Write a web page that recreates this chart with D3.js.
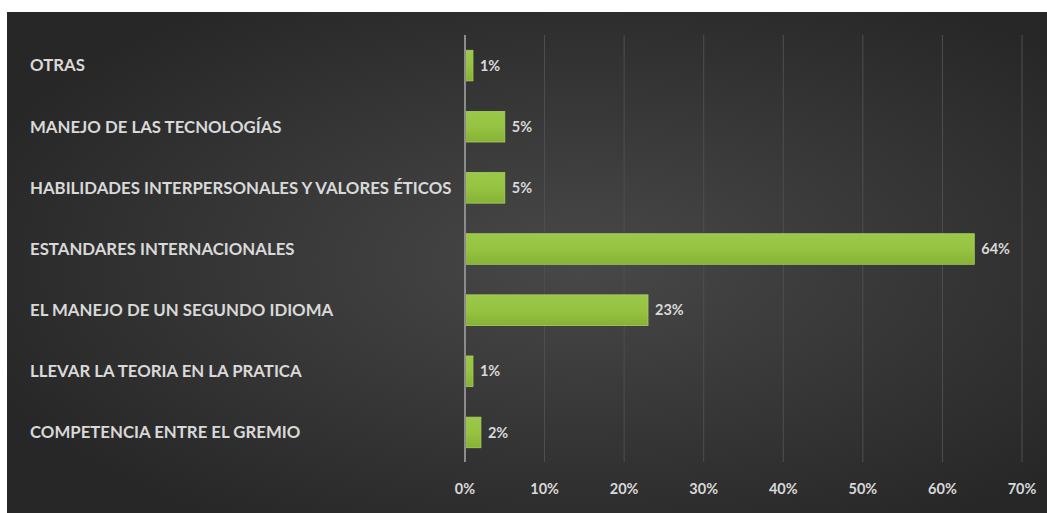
<!DOCTYPE html>
<html>
<head>
<meta charset="utf-8">
<script src="https://cdn.jsdelivr.net/npm/d3@7/dist/d3.min.js"></script>
<style>
  html, body { margin: 0; padding: 0; background: #fff; }
  svg { display: block; }
  text { font-family: Lato, "Open Sans", sans-serif; font-weight: 700; fill: #d9d9d9; }
</style>
</head>
<body>
<svg id="chart" width="1047" height="513"></svg>
<script>
const categories = [
  "OTRAS",
  "MANEJO DE LAS TECNOLOGÍAS",
  "HABILIDADES INTERPERSONALES Y VALORES ÉTICOS",
  "ESTANDARES INTERNACIONALES",
  "EL MANEJO DE UN SEGUNDO IDIOMA",
  "LLEVAR LA TEORIA EN LA PRATICA",
  "COMPETENCIA ENTRE EL GREMIO"
];
const values = [0.01, 0.05, 0.05, 0.64, 0.23, 0.01, 0.02];
const ticks = [0, 0.1, 0.2, 0.3, 0.4, 0.5, 0.6, 0.7];

const svg = d3.select("#chart");
const W = 1047, H = 513;

const defs = svg.append("defs");
const bg = defs.append("radialGradient").attr("id", "bg")
  .attr("cx", "55%").attr("cy", "50%").attr("r", "62%");
bg.append("stop").attr("offset", "0%").attr("stop-color", "#484848");
bg.append("stop").attr("offset", "100%").attr("stop-color", "#272727");

const bar = defs.append("linearGradient").attr("id", "bar")
  .attr("x1", 0).attr("y1", 0).attr("x2", 0).attr("y2", 1);
bar.append("stop").attr("offset", "0%").attr("stop-color", "#9cc84a");
bar.append("stop").attr("offset", "50%").attr("stop-color", "#97c342");
bar.append("stop").attr("offset", "100%").attr("stop-color", "#86b236");

svg.append("rect")
  .attr("x", 7).attr("y", 12)
  .attr("width", W - 7).attr("height", H - 12)
  .attr("fill", "url(#bg)");

let x = d3.scaleLinear().domain([0, 0.7]).range([465, 1022]),
    y = d3.scaleBand().domain(categories).range([35, 463]).paddingInner(0.5).paddingOuter(0.25);

// grid
svg.append("g")
  .selectAll("line")
  .data(ticks.slice(1))
  .enter().append("line")
  .attr("x1", d => x(d)).attr("x2", d => x(d))
  .attr("y1", 35).attr("y2", 462)
  .attr("stroke", "#4f4f4f").attr("stroke-width", 1);

// tick labels
svg.append("g")
  .selectAll("text")
  .data(ticks)
  .enter().append("text")
  .attr("x", d => x(d)).attr("y", 489)
  .attr("dy", "0.35em")
  .attr("text-anchor", "middle")
  .attr("font-size", 14.5)
  .text(d => Math.round(d * 100) + "%");

// bars
svg.append("g")
  .selectAll("rect")
  .data(values)
  .enter().append("rect")
  .attr("x", x(0))
  .attr("y", (d, i) => y(categories[i]))
  .attr("width", d => x(d) - x(0))
  .attr("height", y.bandwidth())
  .attr("fill", "url(#bar)")
  .attr("stroke", "#a9d05e").attr("stroke-width", 0.8);

// axis line
svg.append("line")
  .attr("x1", x(0)).attr("x2", x(0))
  .attr("y1", 35).attr("y2", 462)
  .attr("stroke", "#8c8c8c").attr("stroke-width", 2);

// value labels
svg.append("g")
  .selectAll("text")
  .data(values)
  .enter().append("text")
  .attr("x", d => x(d) + 7)
  .attr("y", (d, i) => y(categories[i]) + y.bandwidth() / 2)
  .attr("dy", "0.35em")
  .attr("font-size", 14.5)
  .text(d => Math.round(d * 100) + "%");

// category labels
svg.append("g")
  .selectAll("text")
  .data(categories)
  .enter().append("text")
  .attr("x", 30)
  .attr("y", d => y(d) + y.bandwidth() / 2)
  .attr("dy", "0.35em")
  .attr("font-size", 16.8)
  .text(d => d);
</script>
</body>
</html>
